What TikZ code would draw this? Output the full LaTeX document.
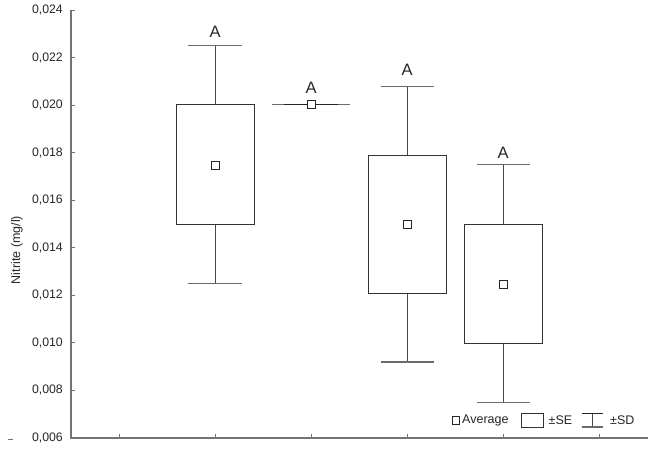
\documentclass[tikz,border=0pt]{standalone}
\usepackage{fontspec}
\setmainfont{Liberation Sans}
\begin{document}
\begin{tikzpicture}[x=1pt,y=-1pt,
  axis/.style={draw=black!55,line width=1.3pt},
  tickl/.style={draw=black!55,line width=0.9pt},
  boxl/.style={draw=black!80,line width=1pt},
  whisk/.style={draw=black!72,line width=1pt},
  capl/.style={draw=black!58,line width=1.1pt},
  meanbox/.style={draw=black!85,fill=white,line width=0.9pt,minimum size=8pt,inner sep=0pt,rectangle},
  ticklab/.style={anchor=east,font=\fontsize{12.3}{14}\selectfont,text=black!85,inner sep=0pt},
  letter/.style={font=\fontsize{16.5}{19}\selectfont,text=black!85,inner sep=0pt},
  leg/.style={anchor=west,font=\fontsize{12.5}{14}\selectfont,text=black!85,inner sep=0pt}]
\useasboundingbox (0,0) rectangle (658,452);
% axes
\draw[axis] (71,10) -- (71,438) -- (648,438);
\foreach \lab [count=\i from 0] in {{0,006},{0,008},{0,010},{0,012},{0,014},{0,016},{0,018},{0,020},{0,022},{0,024}} {
  \draw[tickl] (71,438-\i*47.556) -- (75,438-\i*47.556);
  \node[ticklab] (t\i) at (63,438-\i*47.556) {\lab};
}
\foreach \x in {119,215,311,407,503,599} {
  \draw[tickl] (\x,438) -- (\x,434);
}
\draw[draw=black!55,line width=0.8pt] (8,439) -- (13,439);
\node[rotate=90,font=\fontsize{12.5}{14}\selectfont,text=black!85,inner sep=0pt] (ylab) at (17,250) {Nitrite (mg/l)};
% group 1
\draw[whisk] (215,104.9) -- (215,45.6);
\draw[whisk] (215,224) -- (215,283.4);
\draw[capl] (188,45.6) -- (242,45.6);
\draw[capl] (188,283.4) -- (242,283.4);
\draw[boxl] (176,104.9) rectangle (254,224);
\node[meanbox] (m1) at (215,165.5) {};
\node[letter] (a1) at (215,32) {A};
% group 2
\draw[capl] (272,104.9) -- (350,104.9);
\draw[draw=black!85,line width=1.1pt] (284,104.9) -- (338,104.9);
\node[meanbox] (m2) at (311,104.9) {};
\node[letter] (a2) at (311,88) {A};
% group 3
\draw[whisk] (407,155.3) -- (407,86.3);
\draw[whisk] (407,293) -- (407,362);
\draw[capl] (381,86.3) -- (434,86.3);
\draw[capl] (381,362) -- (434,362);
\draw[boxl] (368,155.3) rectangle (446,293);
\node[meanbox] (m3) at (407,224.5) {};
\node[letter] (a3) at (407,70) {A};
% group 4
\draw[whisk] (503,224.3) -- (503,164.7);
\draw[whisk] (503,343.7) -- (503,402.7);
\draw[capl] (477,164.7) -- (530,164.7);
\draw[capl] (477,402.7) -- (530,402.7);
\draw[boxl] (464.5,224.3) rectangle (542,343.7);
\node[meanbox] (m4) at (503,284.3) {};
\node[letter] (a4) at (503,153) {A};
% legend
\node[meanbox,minimum size=7.5pt] (lm) at (456,420.5) {};
\node[leg] (lav) at (462,420.5) {Average};
\draw[boxl] (521,413.5) rectangle (543,427);
\node[leg] (lse) at (548.5,420.5) {±SE};
\draw[draw=black!85,line width=1pt] (582,413.5) -- (603,413.5);
\draw[whisk] (592.5,413.5) -- (592.5,427);
\draw[capl] (582,427) -- (603,427);
\node[leg] (lsd) at (610,420.5) {±SD};
\end{tikzpicture}
\end{document}
